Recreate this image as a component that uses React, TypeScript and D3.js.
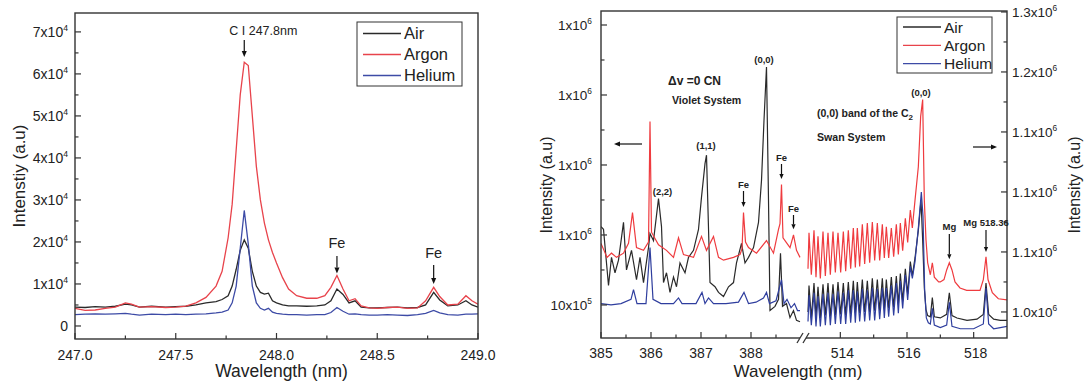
import * as d3 from "d3";
import { useEffect } from "react";

type Pt = [number, number];

const FONT = "'Liberation Sans', Arial, Helvetica, sans-serif";
const INK = "#222";
const C_AIR = "#2a2a2a";
const C_ARGON = "#e8434b";
const C_HELIUM = "#3d4ba6";

// ---------- left panel: C I 247.8 nm (intensity in counts) ----------
const wlCI = [
  247.0, 247.05, 247.1, 247.15, 247.2, 247.25, 247.28, 247.32, 247.38, 247.45, 247.5, 247.55, 247.6,
  247.65, 247.7, 247.73, 247.76, 247.78, 247.8, 247.82, 247.84, 247.86, 247.88, 247.9, 247.92, 247.94,
  247.96, 247.98, 248.0, 248.03, 248.06, 248.1, 248.15, 248.2, 248.24, 248.27, 248.3, 248.33, 248.36,
  248.39, 248.42, 248.46, 248.5, 248.55, 248.6, 248.65, 248.7, 248.74, 248.78, 248.81, 248.85, 248.9,
  248.94, 248.97, 249.0,
];
const airCI = [
  4500, 4400, 4600, 4500, 4700, 5200, 5000, 4500, 4700, 4500, 4600, 4700, 5000, 5500, 5800, 6300, 7200,
  9500, 13500, 18000, 20500, 18500, 13000, 9500, 8000, 7600, 7800, 6000, 5500, 5000, 4800, 4800, 4700,
  4800, 5000, 6000, 8800, 7500, 5500, 6000, 4500, 4300, 4300, 4400, 4500, 4300, 4400, 5000, 8000, 6200,
  4800, 5000, 6000, 5000, 4500,
];
const argonCI = [
  4200, 3700, 3800, 4200, 4500, 5500, 5200, 4500, 4600, 4400, 4500, 4700, 5500, 6800, 9500, 13000, 21000,
  29000, 42000, 55000, 62800, 62000, 50000, 38000, 30000, 24500, 20500, 17500, 15000, 11500, 8800, 7200,
  6600, 6600, 7200, 9200, 12000, 8800, 6000, 6500, 4800, 4300, 4200, 4400, 4500, 4200, 4300, 6000, 9200,
  7000, 5000, 5200, 7200, 6000, 5200,
];
const heliumCI = [
  2700, 2800, 2900, 2800, 2900, 3000, 2800, 2600, 2800, 2700, 2800, 2700, 2800, 2900, 3100, 3300, 3800,
  5500, 9500, 18500, 27500, 19500, 9500, 5500, 4200, 3800, 4200, 3300, 3000, 2800, 2700, 2700, 2600,
  2700, 2700, 3200, 4400, 3500, 2800, 2900, 2700, 2600, 2600, 2700, 2600, 2500, 2700, 3000, 3700, 3100,
  2700, 2600, 2800, 2800, 2900,
];
const ciTicksX = [247.0, 247.5, 248.0, 248.5, 249.0];
const ciTicksY = [0, 10000, 20000, 30000, 40000, 50000, 60000, 70000];

// ---------- right panel: CN violet (left axis) and C2 Swan (right axis), x10^3 a.u ----------
const airCN: Pt[] = [
  [385.0, 1056], [385.05, 1054], [385.15, 1014], [385.21, 1034], [385.28, 1023], [385.35, 1032],
  [385.45, 1059], [385.51, 1025], [385.61, 1039], [385.71, 1018], [385.78, 1034], [385.85, 1016],
  [385.95, 1041], [385.98, 1051], [386.05, 1046], [386.15, 1076], [386.21, 1056], [386.25, 1016],
  [386.31, 1023], [386.38, 1009], [386.45, 1020], [386.51, 1013], [386.58, 1030], [386.68, 1023],
  [386.75, 1034], [386.85, 1039], [386.95, 1054], [387.01, 1077], [387.08, 1101], [387.11, 1107],
  [387.18, 1016], [387.28, 1013], [387.35, 1009], [387.45, 1006], [387.55, 1013], [387.65, 1016],
  [387.71, 1030], [387.81, 1044], [387.88, 1030], [387.95, 1034], [388.05, 1041], [388.15, 1059],
  [388.21, 1089], [388.26, 1132], [388.31, 1170], [388.35, 1075], [388.38, 996], [388.48, 999],
  [388.55, 1004], [388.59, 1037], [388.63, 999], [388.71, 1001], [388.78, 991], [388.85, 996],
  [388.91, 989], [388.98, 988],
];
const argonCN: Pt[] = [
  [385.0, 1044], [385.06, 1039], [385.12, 1034], [385.21, 1037], [385.31, 1034], [385.45, 1037],
  [385.55, 1044], [385.63, 1066], [385.71, 1041], [385.85, 1039], [385.95, 1045], [385.98, 1131],
  [386.01, 1052], [386.15, 1043], [386.31, 1039], [386.45, 1034], [386.55, 1048], [386.65, 1036],
  [386.85, 1034], [387.01, 1049], [387.11, 1039], [387.25, 1049], [387.35, 1034], [387.45, 1032],
  [387.65, 1034], [387.78, 1036], [387.82, 1040], [387.85, 1066], [387.89, 1045], [387.95, 1041],
  [388.11, 1037], [388.31, 1046], [388.45, 1037], [388.55, 1054], [388.58, 1058], [388.61, 1086],
  [388.64, 1048], [388.68, 1046], [388.78, 1041], [388.85, 1050], [388.91, 1039], [388.98, 1034],
];
const heliumCN: Pt[] = [
  [385.0, 1001], [385.2, 1000], [385.4, 1001], [385.6, 1004], [385.65, 1011], [385.72, 1001],
  [385.9, 1001], [385.98, 1041], [386.04, 1004], [386.2, 1001], [386.45, 1001], [386.55, 1005],
  [386.62, 1001], [386.9, 1001], [387.02, 1009], [387.08, 1001], [387.15, 1005], [387.25, 1001],
  [387.5, 1001], [387.75, 1002], [387.86, 1009], [387.95, 1001], [388.1, 1002], [388.25, 1005],
  [388.31, 1009], [388.37, 1001], [388.5, 1003], [388.61, 1018], [388.66, 1001], [388.72, 1004],
  [388.8, 998], [388.87, 1001], [388.93, 996], [388.98, 996],
];
const argonC2: Pt[] = [
  [513.03, 1036], [513.06, 1066], [513.13, 1031], [513.21, 1068], [513.27, 1029], [513.33, 1063],
  [513.4, 1028], [513.48, 1067], [513.55, 1030], [513.63, 1066], [513.7, 1031], [513.78, 1067],
  [513.85, 1033], [513.93, 1066], [514.01, 1033], [514.09, 1067], [514.16, 1034], [514.24, 1068],
  [514.31, 1036], [514.39, 1070], [514.45, 1037], [514.51, 1070], [514.58, 1038], [514.66, 1073],
  [514.73, 1040], [514.81, 1074], [514.88, 1041], [514.96, 1075], [515.03, 1043], [515.11, 1074],
  [515.18, 1043], [515.26, 1073], [515.32, 1045], [515.38, 1071], [515.45, 1045], [515.53, 1070],
  [515.6, 1046], [515.68, 1073], [515.74, 1048], [515.8, 1074], [515.87, 1051], [515.95, 1078],
  [516.02, 1058], [516.1, 1085], [516.16, 1070], [516.24, 1093], [516.34, 1121], [516.41, 1163],
  [516.47, 1177], [516.52, 1093], [516.57, 1060], [516.62, 1041], [516.7, 1031], [516.76, 1041],
  [516.82, 1029], [516.95, 1025], [517.0, 1025], [517.11, 1027], [517.19, 1035], [517.27, 1041],
  [517.35, 1035], [517.44, 1025], [517.59, 1020], [517.79, 1018], [517.99, 1018], [518.19, 1018],
  [518.29, 1027], [518.37, 1046], [518.43, 1027], [518.56, 1016], [518.74, 1011], [519.0, 1010],
];
const airC2: Pt[] = [
  [513.03, 1000], [513.06, 1022], [513.13, 995], [513.21, 1024], [513.27, 996], [513.33, 1021],
  [513.4, 995], [513.48, 1023], [513.55, 997], [513.63, 1024], [513.7, 996], [513.78, 1023],
  [513.85, 997], [513.93, 1025], [514.01, 998], [514.09, 1024], [514.16, 997], [514.24, 1025],
  [514.31, 998], [514.39, 1026], [514.45, 999], [514.51, 1025], [514.58, 999], [514.66, 1027],
  [514.73, 1000], [514.81, 1026], [514.88, 1000], [514.96, 1028], [515.03, 1001], [515.11, 1027],
  [515.18, 1001], [515.26, 1028], [515.32, 1002], [515.38, 1027], [515.45, 1003], [515.53, 1029],
  [515.6, 1004], [515.68, 1030], [515.74, 1006], [515.8, 1032], [515.87, 1009], [515.95, 1036],
  [516.02, 1015], [516.1, 1042], [516.16, 1030], [516.24, 1045], [516.34, 1068], [516.42, 1093],
  [516.47, 1060], [516.52, 1020], [516.57, 1002], [516.62, 997], [516.7, 996], [516.76, 1012],
  [516.82, 996], [517.0, 995], [517.19, 998], [517.27, 1016], [517.35, 997], [517.5, 995],
  [517.8, 993], [518.1, 994], [518.29, 998], [518.37, 1024], [518.45, 998], [518.6, 994],
  [518.8, 993], [519.0, 993],
];
const heliumC2: Pt[] = [
  [513.03, 992], [513.06, 1014], [513.13, 989], [513.21, 1016], [513.27, 988], [513.33, 1013],
  [513.4, 988], [513.48, 1015], [513.55, 989], [513.63, 1016], [513.7, 989], [513.78, 1015],
  [513.85, 990], [513.93, 1017], [514.01, 990], [514.09, 1016], [514.16, 990], [514.24, 1018],
  [514.31, 991], [514.39, 1018], [514.45, 991], [514.51, 1017], [514.58, 992], [514.66, 1019],
  [514.73, 992], [514.81, 1018], [514.88, 993], [514.96, 1020], [515.03, 993], [515.11, 1019],
  [515.18, 994], [515.26, 1020], [515.32, 995], [515.38, 1020], [515.45, 996], [515.53, 1022],
  [515.6, 997], [515.68, 1024], [515.74, 999], [515.8, 1026], [515.87, 1003], [515.95, 1031],
  [516.02, 1010], [516.1, 1038], [516.16, 1028], [516.24, 1042], [516.34, 1070], [516.43, 1100],
  [516.48, 1080], [516.53, 1018], [516.58, 995], [516.64, 991], [516.7, 990], [516.76, 1003],
  [516.82, 989], [517.0, 987], [517.19, 989], [517.27, 1008], [517.35, 988], [517.6, 986],
  [518.0, 986], [518.29, 990], [518.37, 1020], [518.45, 990], [518.6, 986], [518.8, 987],
  [519.0, 988],
];
const cnTicksX = [385, 386, 387, 388];
const cnMinorX = [385.5, 386.5, 387.5, 388.5];
const c2TicksX = [514, 516, 518];
const c2MinorX = [515, 517];
const cnTicksY = [1000, 1050, 1100, 1150, 1200];
const cnTickLabels: [string, string][] = [["10x10", "5"], ["1x10", "6"], ["1x10", "6"], ["1x10", "6"], ["1x10", "6"]];
const c2TicksY = [1000, 1050, 1100, 1150, 1200, 1250];
const c2TickLabels: [string, string][] = [
  ["1.0x10", "6"], ["1.1x10", "6"], ["1.1x10", "6"], ["1.1x10", "6"], ["1.2x10", "6"], ["1.3x10", "6"],
];

const legendItems = [
  { name: "Air", color: C_AIR },
  { name: "Argon", color: C_ARGON },
  { name: "Helium", color: C_HELIUM },
];

function SupText({ x, y, base, exp, anchor = "end", size = 14 }: any) {
  return (
    <text x={x} y={y} textAnchor={anchor} fontSize={size} fontFamily={FONT} fill={INK}>
      {base}
      {exp ? (
        <tspan dy={-size * 0.45} fontSize={size * 0.62}>
          {exp}
        </tspan>
      ) : null}
    </text>
  );
}

function Arrow({ x1, y1, x2, y2, head = 6, w = 1.2 }: any) {
  const a = Math.atan2(y2 - y1, x2 - x1);
  const hw = head * 0.42;
  const bx = x2 - head * Math.cos(a);
  const by = y2 - head * Math.sin(a);
  const pts = [
    [x2, y2],
    [bx + hw * Math.sin(a), by - hw * Math.cos(a)],
    [bx - hw * Math.sin(a), by + hw * Math.cos(a)],
  ];
  return (
    <g>
      <line x1={x1} y1={y1} x2={bx} y2={by} stroke="#111" strokeWidth={w} />
      <polygon points={pts.map((p) => p.join(",")).join(" ")} fill="#111" />
    </g>
  );
}

function Legend({ x, y, w, h, rowH, size }: any) {
  return (
    <g>
      <rect x={x} y={y} width={w} height={h} fill="white" stroke="#333" strokeWidth={1} />
      {legendItems.map((d, i) => {
        const cy = y + rowH * (i + 0.55);
        return (
          <g key={d.name}>
            <line x1={x + 6} x2={x + 44} y1={cy} y2={cy} stroke={d.color} strokeWidth={1.4} />
            <text x={x + 47} y={cy + size * 0.36} fontSize={size} fontFamily={FONT} fill={INK}>
              {d.name}
            </text>
          </g>
        );
      })}
    </g>
  );
}

function CIPanel() {
  const x = d3.scaleLinear().domain([247, 249]).range([75, 478]);
  const y = d3.scaleLinear().domain([-3100, 74500]).range([339, 13]);
  const [x0, x1] = x.range();
  const [y0, y1] = y.range();
  const line = d3
    .line<number>()
    .x((_, i) => x(wlCI[i]))
    .y((d) => y(d));
  const series = [
    { name: "Air", color: C_AIR, values: airCI },
    { name: "Argon", color: C_ARGON, values: argonCI },
    { name: "Helium", color: C_HELIUM, values: heliumCI },
  ];
  const minorX = d3.pairs(ciTicksX).map(([a, b]) => (a + b) / 2);
  const minorY = d3.pairs(ciTicksY).map(([a, b]) => (a + b) / 2);
  const fmt = d3.format(".1f");
  return (
    <g>
      <defs>
        <clipPath id="clipCI">
          <rect x={x0} y={y1} width={x1 - x0} height={y0 - y1} />
        </clipPath>
      </defs>
      <g clipPath="url(#clipCI)">
        {series.map((s) => (
          <path key={s.name} d={line(s.values) ?? ""} fill="none" stroke={s.color} strokeWidth={1.3} />
        ))}
      </g>
      <rect x={x0} y={y1} width={x1 - x0} height={y0 - y1} fill="none" stroke="#333" strokeWidth={1.4} />
      {ciTicksX.map((t) => (
        <g key={t}>
          <line x1={x(t)} x2={x(t)} y1={y0} y2={y0 - 6} stroke="#333" strokeWidth={1.2} />
          <text x={x(t)} y={y0 + 21} textAnchor="middle" fontSize={14} fontFamily={FONT} fill={INK}>
            {fmt(t)}
          </text>
        </g>
      ))}
      {minorX.map((t) => (
        <line key={t} x1={x(t)} x2={x(t)} y1={y0} y2={y0 - 3.5} stroke="#333" strokeWidth={1.2} />
      ))}
      {ciTicksY.map((t) => (
        <g key={t}>
          <line x1={x0} x2={x0 + 6} y1={y(t)} y2={y(t)} stroke="#333" strokeWidth={1.2} />
          <SupText x={68} y={y(t) + 5} base={t === 0 ? "0" : `${t / 10000}x10`} exp={t === 0 ? null : "4"} />
        </g>
      ))}
      {minorY.map((t) => (
        <line key={t} x1={x0} x2={x0 + 3.5} y1={y(t)} y2={y(t)} stroke="#333" strokeWidth={1.2} />
      ))}
      <text x={(x0 + x1) / 2 + 5} y={377} textAnchor="middle" fontSize={17.5} fontFamily={FONT} fill={INK}>
        Wavelength (nm)
      </text>
      <text
        transform={`translate(25,176) rotate(-90)`}
        textAnchor="middle"
        fontSize={17}
        fontFamily={FONT}
        fill={INK}
      >
        Intenstiy (a.u)
      </text>
      {/* annotations */}
      <text x={x(247.84) - 15} y={35} fontSize={12.5} fontFamily={FONT} fill={INK}>
        C I 247.8nm
      </text>
      <Arrow x1={x(247.84)} y1={40} x2={x(247.84)} y2={y(64000)} />
      <text x={x(248.3)} y={248} textAnchor="middle" fontSize={14.5} fontFamily={FONT} fill={INK}>
        Fe
      </text>
      <Arrow x1={x(248.3)} y1={256} x2={x(248.3)} y2={y(12500)} />
      <text x={x(248.78)} y={258} textAnchor="middle" fontSize={14.5} fontFamily={FONT} fill={INK}>
        Fe
      </text>
      <Arrow x1={x(248.78)} y1={265} x2={x(248.78)} y2={y(10000)} />
      <Legend x={357} y={22} w={105} h={64} rowH={21} size={16.5} />
    </g>
  );
}

function SwanPanel() {
  const xCN = d3.scaleLinear().domain([385, 389]).range([601, 801]);
  const xC2 = d3.scaleLinear().domain([513, 519]).range([807, 1007]);
  const yL = d3.scaleLinear().domain([976.4, 1210]).range([338, 11]);
  const yR = d3.scaleLinear().domain([978.3, 1250.8]).range([338, 11]);
  const left = 601;
  const right = 1007;
  const top = 11;
  const bottom = 338;
  const lineCN = d3
    .line<Pt>()
    .x((d) => xCN(d[0]))
    .y((d) => yL(d[1]));
  const lineC2 = d3
    .line<Pt>()
    .x((d) => xC2(d[0]))
    .y((d) => yR(d[1]));
  const cn = [
    { name: "Air", color: C_AIR, pts: airCN },
    { name: "Argon", color: "#ef3b3f", pts: argonCN },
    { name: "Helium", color: "#2f3e9e", pts: heliumCN },
  ];
  const c2 = [
    { name: "Air", color: C_AIR, pts: airC2 },
    { name: "Argon", color: "#ef3b3f", pts: argonC2 },
    { name: "Helium", color: "#2f3e9e", pts: heliumC2 },
  ];
  const bold = { fontFamily: FONT, fontWeight: 700, fill: INK } as const;
  return (
    <g>
      <defs>
        <clipPath id="clipCN">
          <rect x={left} y={top} width={801 - left} height={bottom - top} />
        </clipPath>
        <clipPath id="clipC2">
          <rect x={807} y={top} width={right - 807} height={bottom - top} />
        </clipPath>
      </defs>
      <g clipPath="url(#clipCN)">
        {cn.map((s) => (
          <path key={s.name} d={lineCN(s.pts) ?? ""} fill="none" stroke={s.color} strokeWidth={1.2} />
        ))}
      </g>
      <g clipPath="url(#clipC2)">
        {c2.map((s) => (
          <path key={s.name} d={lineC2(s.pts) ?? ""} fill="none" stroke={s.color} strokeWidth={1.2} />
        ))}
      </g>
      <rect x={left} y={top} width={right - left} height={bottom - top} fill="none" stroke="#333" strokeWidth={1.4} />
      {/* axis break */}
      <line x1={800} x2={806} y1={bottom} y2={bottom} stroke="white" strokeWidth={3} />
      <line x1={797} y1={bottom + 5} x2={803} y2={bottom - 5} stroke="#333" strokeWidth={1.3} />
      <line x1={803} y1={bottom + 5} x2={809} y2={bottom - 5} stroke="#333" strokeWidth={1.3} />
      {cnTicksX.map((t) => (
        <g key={t}>
          <line x1={xCN(t)} x2={xCN(t)} y1={bottom} y2={bottom - 6} stroke="#333" strokeWidth={1.2} />
          <text x={xCN(t)} y={bottom + 20} textAnchor="middle" fontSize={14} fontFamily={FONT} fill={INK}>
            {t}
          </text>
        </g>
      ))}
      {cnMinorX.map((t) => (
        <line key={t} x1={xCN(t)} x2={xCN(t)} y1={bottom} y2={bottom - 3.5} stroke="#333" strokeWidth={1.2} />
      ))}
      {c2TicksX.map((t) => (
        <g key={t}>
          <line x1={xC2(t)} x2={xC2(t)} y1={bottom} y2={bottom - 6} stroke="#333" strokeWidth={1.2} />
          <text x={xC2(t) + 2} y={bottom + 20} textAnchor="middle" fontSize={14} fontFamily={FONT} fill={INK}>
            {t}
          </text>
        </g>
      ))}
      {c2MinorX.map((t) => (
        <line key={t} x1={xC2(t)} x2={xC2(t)} y1={bottom} y2={bottom - 3.5} stroke="#333" strokeWidth={1.2} />
      ))}
      {cnTicksY.map((t, i) => (
        <g key={t}>
          <line x1={left} x2={left + 6} y1={yL(t)} y2={yL(t)} stroke="#333" strokeWidth={1.2} />
          <SupText x={592} y={yL(t) + 5} base={cnTickLabels[i][0]} exp={cnTickLabels[i][1]} size={13.5} />
        </g>
      ))}
      {d3.pairs(cnTicksY).map(([a, b]) => (
        <line key={a} x1={left} x2={left + 3.5} y1={yL((a + b) / 2)} y2={yL((a + b) / 2)} stroke="#333" strokeWidth={1.2} />
      ))}
      {c2TicksY.map((t, i) => (
        <g key={t}>
          <line x1={right} x2={right - 6} y1={yR(t)} y2={yR(t)} stroke="#333" strokeWidth={1.2} />
          <SupText x={1012} y={yR(t) + 5} base={c2TickLabels[i][0]} exp={c2TickLabels[i][1]} anchor="start" size={13.5} />
        </g>
      ))}
      {d3.pairs(c2TicksY).map(([a, b]) => (
        <line key={a} x1={right} x2={right - 3.5} y1={yR((a + b) / 2)} y2={yR((a + b) / 2)} stroke="#333" strokeWidth={1.2} />
      ))}
      <text x={798} y={377} textAnchor="middle" fontSize={17} fontFamily={FONT} fill={INK}>
        Wavelength (nm)
      </text>
      <text transform="translate(552,185) rotate(-90)" textAnchor="middle" fontSize={16} fontFamily={FONT} fill={INK}>
        Intensity (a.u)
      </text>
      <text transform="translate(1080,185) rotate(-90)" textAnchor="middle" fontSize={16} fontFamily={FONT} fill={INK}>
        Intensity (a.u)
      </text>
      {/* CN annotations */}
      <text x={668} y={85} fontSize={12} {...bold}>
        Δv =0 CN
      </text>
      <text x={672} y={104} fontSize={10.6} {...bold}>
        Violet System
      </text>
      <Arrow x1={642} y1={144} x2={614} y2={144} />
      <text x={xCN(386.15) + 4} y={195} textAnchor="middle" fontSize={9.5} {...bold}>
        (2,2)
      </text>
      <text x={xCN(387.1)} y={149} textAnchor="middle" fontSize={9.5} {...bold}>
        (1,1)
      </text>
      <text x={xCN(388.26)} y={63} textAnchor="middle" fontSize={9.5} {...bold}>
        (0,0)
      </text>
      <text x={xCN(387.85)} y={188} textAnchor="middle" fontSize={9.5} {...bold}>
        Fe
      </text>
      <Arrow x1={xCN(387.85)} y1={191} x2={xCN(387.85)} y2={yL(1070)} head={5} />
      <text x={xCN(388.61)} y={161} textAnchor="middle" fontSize={9.5} {...bold}>
        Fe
      </text>
      <Arrow x1={xCN(388.61)} y1={164} x2={xCN(388.61)} y2={yL(1090)} head={5} />
      <text x={xCN(388.85)} y={212} textAnchor="middle" fontSize={9.5} {...bold}>
        Fe
      </text>
      <Arrow x1={xCN(388.85)} y1={215} x2={xCN(388.85)} y2={yL(1054)} head={5} />
      {/* C2 annotations */}
      <text x={817} y={117} fontSize={10.5} {...bold}>
        (0,0) band of the C
        <tspan dy={3} fontSize={8}>
          2
        </tspan>
      </text>
      <text x={817} y={141} fontSize={10.6} {...bold}>
        Swan System
      </text>
      <text x={xC2(516.42)} y={96} textAnchor="middle" fontSize={9.5} {...bold}>
        (0,0)
      </text>
      <Arrow x1={973} y1={147} x2={997} y2={147} />
      <text x={xC2(517.27)} y={230} textAnchor="middle" fontSize={9.5} {...bold}>
        Mg
      </text>
      <Arrow x1={xC2(517.27)} y1={234} x2={xC2(517.27)} y2={yR(1044)} head={5} />
      <text x={xC2(518.37)} y={226} textAnchor="middle" fontSize={9.5} {...bold}>
        Mg 518.36
      </text>
      <Arrow x1={xC2(518.37)} y1={230} x2={xC2(518.37)} y2={yR(1050)} head={5} />
      <Legend x={897} y={17} w={95} h={56} rowH={18.3} size={15.5} />
    </g>
  );
}

export default function App() {
  useEffect(() => {
    document.body.style.margin = "0";
  }, []);
  return (
    <div style={{ position: "absolute", left: 0, top: 0, background: "white" }}>
      <svg width={1085} height={383} style={{ display: "block" }}>
        <rect width={1085} height={383} fill="white" />
        <CIPanel />
        <SwanPanel />
      </svg>
    </div>
  );
}
